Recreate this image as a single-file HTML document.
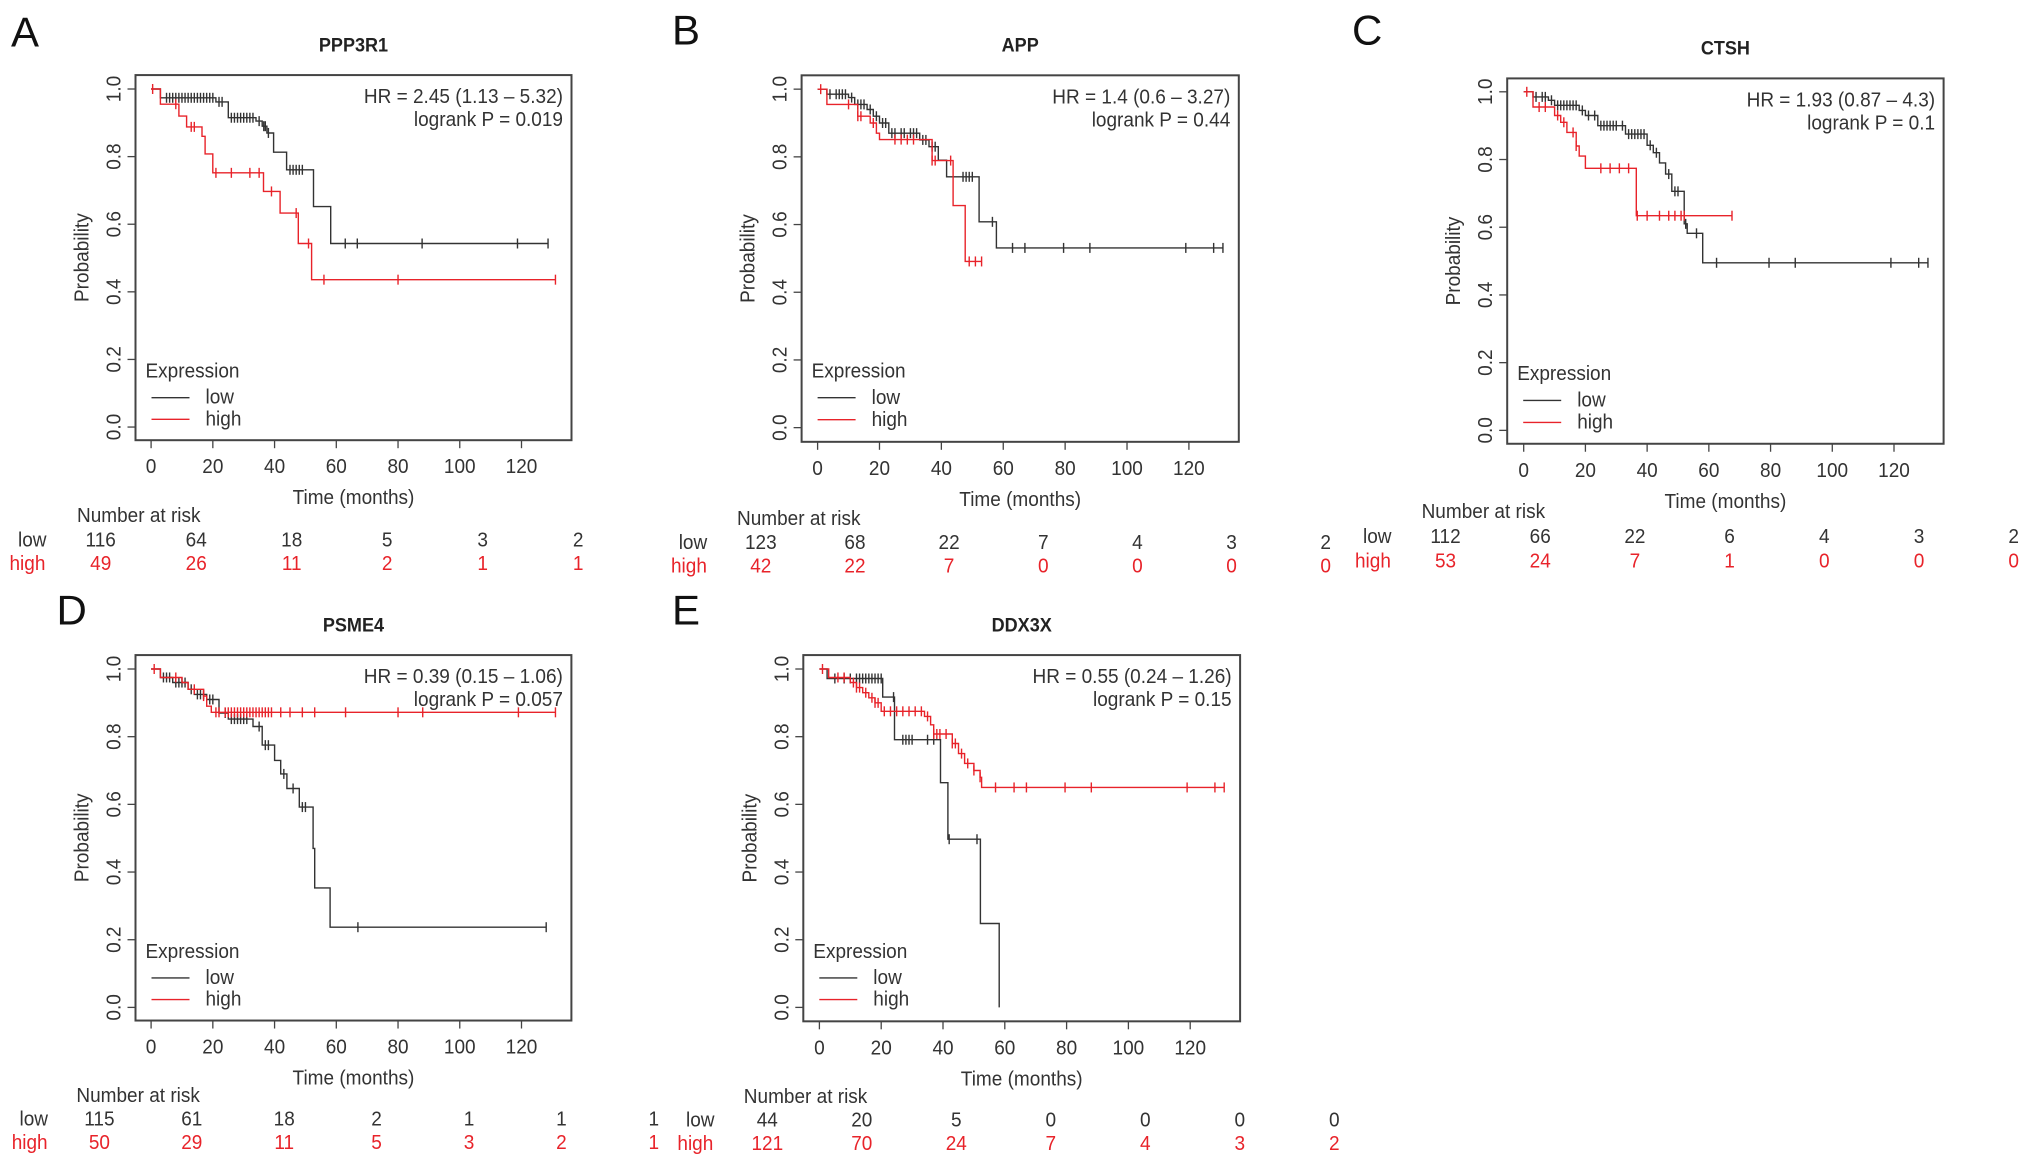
<!DOCTYPE html>
<html><head><meta charset="utf-8"><style>
html,body{margin:0;padding:0;background:#fff;overflow:hidden}
svg{display:block}
text{font-family:"Liberation Sans",Arial,sans-serif}
</style></head><body>
<svg id="fig" width="2031" height="1169" viewBox="0 0 2031 1169" xmlns="http://www.w3.org/2000/svg"></svg>
<script>
// ---- Panel A: PPP3R1
const A_low_t=[3,21,25,34,36,37.5,39.7,43.9,52.6,58.2];
const A_low_s=[0.974,0.962,0.915,0.905,0.89,0.87,0.813,0.761,0.652,0.543];
const A_low_cens=[5,6,7,8,9,10,11,12,13,14,15,16,17,18,19,20,22,23,26,27,28,29,30,31,32,33,35,36.5,37,38,45,46,47,48,49,62.9,66.8,87.8,118.7,128.6];
const A_high_t=[3,9,11.5,16.5,17.5,20,36.4,41.8,47.7,52];
const A_high_s=[0.955,0.92,0.888,0.86,0.808,0.752,0.697,0.633,0.543,0.436];
const A_high_cens=[0.5,8,13,14,21,26,32,35,39,47,51,56,80,131];
const A_risk_low=[116,64,18,5,3,2];
const A_risk_high=[49,26,11,2,1,1];
// ---- Panel B: APP
const B_low_t=[3,10,12,16,18,20,23,33,36,39,41.7,52.2,57.8];
const B_low_s=[0.985,0.975,0.955,0.94,0.92,0.9,0.87,0.85,0.83,0.79,0.741,0.608,0.531];
const B_low_cens=[4,6,7,8,9,11,13,14,15,17,19,21,22,24,25,27,28,30,31,32,34,35,37,38,47,48,49,50,56.5,63,67,79.5,88,119,128,131];
const B_high_t=[3,13,17,19,20,37,43.8,47.7];
const B_high_s=[0.955,0.92,0.9,0.87,0.851,0.789,0.656,0.491];
const B_high_cens=[1,10,13,14,18,25,27,29,31,37,38,43,49,51,53];
const B_risk_low=[123,68,22,7,4,3,2];
const B_risk_high=[42,22,7,0,0,0,0];
// ---- Panel C: CTSH
const C_low_t=[3,8,10,18,20,24,33,40,42,44,46,48,52,53,58];
const C_low_s=[0.985,0.975,0.96,0.945,0.93,0.9,0.875,0.842,0.82,0.79,0.757,0.706,0.61,0.582,0.495];
const C_low_cens=[4,6,7,9,11,12,13,14,15,16,17,19,21,23,25,26,27,28,29,30,32,34,35,36,37,38,39,41,43,47,49,50,52.5,56,62.5,79.5,88,119,128,131];
const C_high_t=[3,10,12,14,17,18,20,36.5];
const C_high_s=[0.955,0.93,0.91,0.88,0.84,0.81,0.774,0.634];
const C_high_cens=[1,5,7,11,13,16,17,25,28,31,34,36.8,40,44,47,49,51,52,67.5];
const C_risk_low=[112,66,22,6,4,3,2];
const C_risk_high=[53,24,7,1,0,0,0];
// ---- Panel D: PSME4
const D_low_t=[3,7,12,14,18,22,25,33,36,40,42,44,48,52.5,53,58];
const D_low_s=[0.975,0.96,0.94,0.925,0.91,0.87,0.852,0.83,0.775,0.73,0.69,0.647,0.592,0.47,0.353,0.237];
const D_low_cens=[4,5,6,8,9,10,11,13,15,16,17,19,20,24,26,27,28,29,30,31,35,37,38,43,46,49,50,67,128];
const D_high_t=[3,10,12,17,18,19.5];
const D_high_s=[0.975,0.96,0.94,0.92,0.89,0.872];
const D_high_cens=[1,8,14,17,21,22,24,25,26,27,28,29,30,31,32,33,34,35,36,37,38,39,42,45,49,53,63,80,88,119,131];
const D_risk_low=[115,61,18,2,1,1,1];
const D_risk_high=[50,29,11,5,3,2,1];
// ---- Panel E: DDX3X
const E_low_t=[2.5,20.5,24.3,39.2,41.6,52.1,58.2];
const E_low_s=[0.972,0.917,0.791,0.664,0.497,0.248,0];
const E_low_cens=[5,8,10,12,13,14,15,16,17,18,19,20,24,27,28,29,30,35,37,42,51];
const E_high_t=[3,10,12,14,16,18,20,34,36,37,43,45,47,50,52,52.5];
const E_high_s=[0.975,0.96,0.945,0.93,0.915,0.9,0.875,0.86,0.835,0.808,0.78,0.75,0.721,0.7,0.68,0.65];
const E_high_cens=[1,6,8,11,12,13,15,17,18,19,21,23,25,27,29,31,33,35,37,38,39,41,43,44,46,48,50,52,57,63,67,79.5,88,119,128,131];
const E_risk_low=[44,20,5,0,0,0,0];
const E_risk_high=[121,70,24,7,4,3,2];

const xTicks=[0,20,40,60,80,100,120];
const yTicks=[0,0.2,0.4,0.6,0.8,1.0];
const yTickLabels=["0.0","0.2","0.4","0.6","0.8","1.0"];
const titles=["PPP3R1","APP","CTSH","PSME4","DDX3X"];
const letters=["A","B","C","D","E"];
const hrText=["HR = 2.45 (1.13 \u2013 5.32)","HR = 1.4 (0.6 \u2013 3.27)","HR = 1.93 (0.87 \u2013 4.3)","HR = 0.39 (0.15 \u2013 1.06)","HR = 0.55 (0.24 \u2013 1.26)"];
const pText=["logrank P = 0.019","logrank P = 0.44","logrank P = 0.1","logrank P = 0.057","logrank P = 0.15"];

const NS="http://www.w3.org/2000/svg";
const svg=document.getElementById('fig');
const RED="#e8232a", BLK="#333";
function el(tag,attrs,parent){const e=document.createElementNS(NS,tag);for(const k in attrs)e.setAttribute(k,attrs[k]);(parent||svg).appendChild(e);return e;}
function txt(parent,x,y,s,size,anchor,fill,sq,weight){
  const t=el('text',{x:x,y:y,'font-size':size,'text-anchor':anchor||'start'},parent);
  t.style.fill=fill||'#333';
  if(weight)t.setAttribute('font-weight',weight);
  t.textContent=s;
  const L=t.getComputedTextLength();
  if(L>0&&sq&&sq!==1){t.setAttribute('textLength',(L*sq).toFixed(1));t.setAttribute('lengthAdjust','spacingAndGlyphs');}
  return t;
}
const rawGeo=[
 {k:0.865,base:0,box:[135.5,86.8,571.5,508.9],x0:151.1,x120:521.5,y1:102.9,y0:493.7,nar:[77,603.5],rows:[632,659],lab:[18,9.5],rx0:100.7,rdx:95.5,let:[11,50]},
 {k:0.881,base:0,box:[801.6,85.5,1238.8,501.5],x0:817.6,x120:1188.9,y1:101.2,y0:485.4,nar:[737,596],rows:[623,650],lab:[678.7,671],rx0:760.8,rdx:94.15,let:[672,47]},
 {k:0.881,base:0,box:[1507.2,89,1943.6,503.7],x0:1523.7,x120:1894,y1:104.2,y0:488.5,nar:[1421.6,588],rows:[616.6,644],lab:[1363,1355],rx0:1445.5,rdx:94.7,let:[1352,47]},
 {k:0.865,base:580,box:[135.5,666.8,571.4,1089.3],x0:151.1,x120:521.5,y1:682.9,y0:1074.1,nar:[76.4,1183.6],rows:[1210.5,1237.8],lab:[19.5,11.7],rx0:99.4,rdx:92.4,let:[56.5,628]},
 {k:0.865,base:580,box:[803.3,666.8,1240.1,1090.2],x0:819.4,x120:1190.2,y1:682.9,y0:1074.1,nar:[743.8,1184.4],rows:[1211.8,1239.1],lab:[686,677.4],rx0:767.3,rdx:94.5,let:[672,628]}
];
const geo=rawGeo.map(g=>{const f=y=>g.base+(y-g.base)*g.k;return {
  k:g.k,box:[g.box[0],f(g.box[1]),g.box[2],f(g.box[3])],x0:g.x0,x120:g.x120,y1:f(g.y1),y0:f(g.y0),
  nar:[g.nar[0],f(g.nar[1])],rows:[f(g.rows[0]),f(g.rows[1])],lab:g.lab,rx0:g.rx0,rdx:g.rdx,let:[g.let[0],f(g.let[1])+3]};});
const series=[
 [[A_low_t,A_low_s,A_low_cens],[A_high_t,A_high_s,A_high_cens],A_risk_low,A_risk_high],
 [[B_low_t,B_low_s,B_low_cens],[B_high_t,B_high_s,B_high_cens],B_risk_low,B_risk_high],
 [[C_low_t,C_low_s,C_low_cens],[C_high_t,C_high_s,C_high_cens],C_risk_low,C_risk_high],
 [[D_low_t,D_low_s,D_low_cens],[D_high_t,D_high_s,D_high_cens],D_risk_low,D_risk_high],
 [[E_low_t,E_low_s,E_low_cens],[E_high_t,E_high_s,E_high_cens],E_risk_low,E_risk_high]
];
function survAt(T,S,t){let s=1;for(let i=0;i<T.length;i++){if(T[i]<=t)s=S[i];}return s;}
const FS=20, SQ=0.95;
geo.forEach((g,pi)=>{
  const k=g.k;
  const G=el('g',{});
  
  
  const X=t=>g.x0+(g.x120-g.x0)*t/120;
  const Y=s=>g.y0-(g.y0-g.y1)*s;
  const [bl,bt,br,bb]=g.box;
  const lt=txt(G,g.let[0],g.let[1],letters[pi],42,'start','#111',1);
  
  const tt=txt(G,(bl+br)/2,bt-27*k,titles[pi],19,'middle','#222',0.95,'bold');
  
  const box=el('rect',{x:bl,y:bt,width:br-bl,height:bb-bt,fill:'none',stroke:'#444','stroke-width':2},G);
  
  const xa=el('g',{},G);
  el('line',{x1:X(0),x2:X(120),y1:bb,y2:bb,stroke:'#444','stroke-width':1.3},xa);
  xTicks.forEach(v=>{el('line',{x1:X(v),x2:X(v),y1:bb,y2:bb+8,stroke:'#444','stroke-width':1.3},xa);
    const l=txt(xa,X(v),bb+33,String(v),FS,'middle',null,SQ);});
  const xt=txt(G,(bl+br)/2,bb+64,'Time (months)',FS,'middle',null,SQ);
  
  const ya=el('g',{},G);
  yTicks.forEach((v,i)=>{el('line',{x1:bl-8,x2:bl,y1:Y(v),y2:Y(v),stroke:'#444','stroke-width':1.3},ya);
    const l=txt(ya,0,0,yTickLabels[i],FS,'middle',null,SQ);l.setAttribute('transform','translate('+(bl-15)+','+Y(v)+') rotate(-90)');
    });
  const yt=txt(G,0,0,'Probability',FS,'middle',null,SQ);
  yt.setAttribute('transform','translate('+(bl-47)+','+((bt+bb)/2)+') rotate(-90)');
  
  const h1=txt(G,br-8.5,bt+28,hrText[pi],FS,'end',null,SQ);
  const h2=txt(G,br-8.5,bt+51,pText[pi],FS,'end',null,SQ);
  const lg=el('g',{},G);
  txt(lg,bl+10,g.y0-57*k,'Expression',FS,'start',null,SQ);
  el('line',{x1:bl+16,x2:bl+54,y1:g.y0-34*k,y2:g.y0-34*k,stroke:BLK,'stroke-width':1.4},lg);
  el('line',{x1:bl+16,x2:bl+54,y1:g.y0-9*k,y2:g.y0-9*k,stroke:RED,'stroke-width':1.4},lg);
  txt(lg,bl+70,g.y0-27*k,'low',FS,'start',null,SQ);
  txt(lg,bl+70,g.y0-2*k,'high',FS,'start',null,SQ);
  const [low,high,rl,rh]=series[pi];
  [[low,BLK,'low'],[high,RED,'high']].forEach(([sd,col,nm])=>{
    const [T,S,Cn]=sd;
    const end=Math.max(T[T.length-1],Cn.length?Cn[Cn.length-1]:0);
    let d='M'+X(0)+','+Y(1);let s=1;
    for(let i=0;i<T.length;i++){d+=' H'+X(T[i]).toFixed(1)+' V'+Y(S[i]).toFixed(1);s=S[i];}
    if(s>0)d+=' H'+X(end).toFixed(1);
    const p=el('path',{d:d,fill:'none',stroke:col,'stroke-width':1.4},G);
    
    
    const cg=el('g',{stroke:col,'stroke-width':1.4},G);
    
    
    Cn.forEach(c=>{const yy=Y(survAt(T,S,c));el('line',{x1:X(c),x2:X(c),y1:yy-5,y2:yy+5},cg);});
  });
  const rt=el('g',{},G);
  txt(rt,g.nar[0],g.nar[1],'Number at risk',FS,'start',null,SQ);
  txt(rt,g.lab[0],g.rows[0],'low',FS,'start',null,SQ);
  txt(rt,g.lab[1],g.rows[1],'high',FS,'start',RED,SQ);
  rl.forEach((v,i)=>{const t=txt(rt,g.rx0+g.rdx*i,g.rows[0],String(v),FS,'middle',null,SQ);});
  rh.forEach((v,i)=>{const t=txt(rt,g.rx0+g.rdx*i,g.rows[1],String(v),FS,'middle',RED,SQ);});
});
</script>
</body></html>
